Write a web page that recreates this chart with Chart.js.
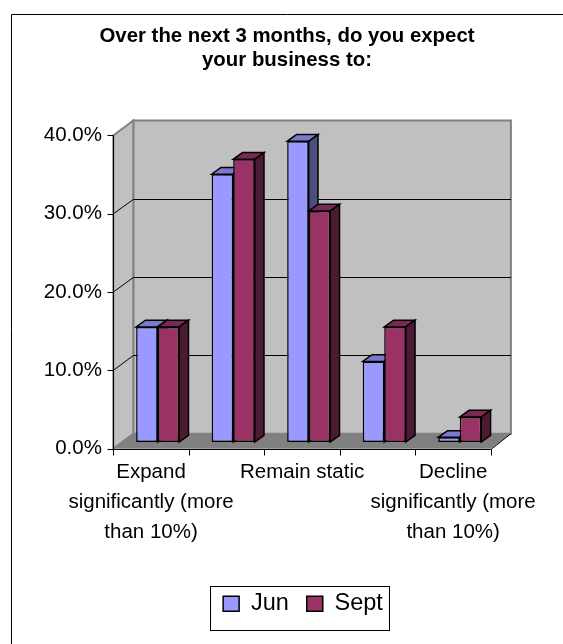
<!DOCTYPE html>
<html>
<head>
<meta charset="utf-8">
<title>Business outlook</title>
<script src="https://cdn.jsdelivr.net/npm/chart.js@4.4.1/dist/chart.umd.min.js"></script>
<style>
  html, body { margin: 0; padding: 0; background: #fff; }
  canvas { display: block; }
</style>
</head>
<body>
<canvas id="chart" width="563" height="644"></canvas>
<script>
// categories (multi-line labels), only every other one is printed under the axis
var categories = [
  ["Expand", "significantly (more", "than 10%)"],
  ["Expand slightly", "(less than 10%)"],
  ["Remain static"],
  ["Decline slightly", "(less than 10%)"],
  ["Decline", "significantly (more", "than 10%)"]
];
var seriesNames = ["Jun", "Sept"];
var junValues = [14.7, 34.2, 38.4, 10.3, 0.6];
var septValues = [14.7, 36.1, 29.5, 14.7, 3.2];
var yTicks = [0, 10, 20, 30, 40];

// front, top and side face colours for each series
var palette = [
  { front: "#9999ff", top: "#7a7acc", side: "#4d4d80" },
  { front: "#993366", top: "#7a2952", side: "#4d1a33" }
];

var FONT = "'Liberation Sans', Arial, sans-serif";

// pseudo 3D offsets, relative to the plane the columns stand in
var FRONT = { x: -6.6, y: 6.7 };
var BACK = { x: 13.4, y: -8.3 };
var EXTRUDE = { x: 9.3, y: -6.7 };

function crisp(v) { return Math.round(v) + 0.5; }

function line(ctx, x1, y1, x2, y2) {
  ctx.beginPath();
  ctx.moveTo(x1, y1);
  ctx.lineTo(x2, y2);
  ctx.stroke();
}

function poly(ctx, pts, fill, stroke, width) {
  ctx.beginPath();
  ctx.moveTo(pts[0][0], pts[0][1]);
  for (var i = 1; i < pts.length; i++) ctx.lineTo(pts[i][0], pts[i][1]);
  ctx.closePath();
  if (fill) { ctx.fillStyle = fill; ctx.fill(); }
  if (stroke) { ctx.strokeStyle = stroke; ctx.lineWidth = width || 1; ctx.stroke(); }
}

var scene3d = {
  id: "scene3d",
  afterLayout: function (chart) {
    // the legend sits a little right of the title's centre
    chart.legend.left += 16;
    chart.legend.right += 16;
  },
  beforeDraw: function (chart) {
    var ctx = chart.ctx;
    ctx.save();
    ctx.fillStyle = "#fff";
    ctx.fillRect(0, 0, chart.width, chart.height);
    ctx.strokeStyle = "#000";
    ctx.lineWidth = 1;
    ctx.beginPath();
    ctx.moveTo(11.5, chart.height);
    ctx.lineTo(11.5, 14.5);
    ctx.lineTo(chart.width, 14.5);
    ctx.stroke();
    ctx.restore();
  },
  beforeDatasetsDraw: function (chart) {
    var ctx = chart.ctx;
    var a = chart.chartArea;
    var ys = chart.scales.y, xs = chart.scales.x;
    var fl = a.left + FRONT.x, fr = a.right + FRONT.x;
    var bl = a.left + BACK.x, br = a.right + BACK.x;
    var y0 = ys.getPixelForValue(0);
    var yTop = ys.getPixelForValue(yTicks[yTicks.length - 1]);

    ctx.save();
    // back wall, left wall, floor
    poly(ctx, [[bl, yTop + BACK.y], [br, yTop + BACK.y], [br, y0 + BACK.y], [bl, y0 + BACK.y]], "#c0c0c0", "#808080", 2);
    poly(ctx, [[fl, yTop + FRONT.y], [bl, yTop + BACK.y], [bl, y0 + BACK.y], [fl, y0 + FRONT.y]], "#c0c0c0", "#808080", 2);
    poly(ctx, [[fl, y0 + FRONT.y], [fr, y0 + FRONT.y], [br, y0 + BACK.y], [bl, y0 + BACK.y]], "#808080");

    ctx.strokeStyle = "#000";
    ctx.lineWidth = 1;
    yTicks.forEach(function (v, i) {
      var py = ys.getPixelForValue(v);
      if (i > 0 && i < yTicks.length - 1) {
        line(ctx, fl, py + FRONT.y, bl, crisp(py + BACK.y));
        line(ctx, bl, crisp(py + BACK.y), br, crisp(py + BACK.y));
      }
      // tick on the front value axis
      line(ctx, crisp(fl) - 6, crisp(py + FRONT.y), crisp(fl), crisp(py + FRONT.y));
    });

    // front value axis and category axis
    line(ctx, crisp(fl), yTop + FRONT.y, crisp(fl), crisp(y0 + FRONT.y));
    line(ctx, crisp(fl), crisp(y0 + FRONT.y), fr, crisp(y0 + FRONT.y));
    line(ctx, fr, crisp(y0 + FRONT.y), br, y0 + BACK.y);
    for (var i = 0; i <= categories.length; i++) {
      var px = crisp(xs.getPixelForValue(i - 0.5) + FRONT.x);
      line(ctx, px, crisp(y0 + FRONT.y), px, crisp(y0 + FRONT.y) + 6);
    }
    ctx.restore();
  },
  beforeDatasetDraw: function () {
    // columns are painted back to front in afterDatasetsDraw
    return false;
  },
  afterDatasetsDraw: function (chart) {
    var ctx = chart.ctx;
    var metas = chart.data.datasets.map(function (ds, d) { return chart.getDatasetMeta(d); });
    ctx.save();
    ctx.lineJoin = "miter";
    for (var i = 0; i < categories.length; i++) {
      metas.forEach(function (meta, d) {
        var bar = meta.data[i];
        var p = bar.getProps(["x", "y", "base", "width"], true);
        var l = p.x - p.width / 2, r = p.x + p.width / 2, t = p.y, b = p.base;
        bar.draw(ctx);
        poly(ctx, [[l, t], [r, t], [r + EXTRUDE.x, t + EXTRUDE.y], [l + EXTRUDE.x, t + EXTRUDE.y]], palette[d].top, "#000", 1.5);
        poly(ctx, [[r, t], [r + EXTRUDE.x, t + EXTRUDE.y], [r + EXTRUDE.x, b + EXTRUDE.y], [r, b]], palette[d].side, "#000", 1.5);
      });
    }
    ctx.restore();
  },
  afterDraw: function (chart) {
    // frame round the legend
    var boxes = chart.legend.legendHitBoxes;
    if (!boxes || !boxes.length) return;
    var left = Math.min.apply(null, boxes.map(function (b) { return b.left; }));
    var right = Math.max.apply(null, boxes.map(function (b) { return b.left + b.width; }));
    var top = boxes[0].top, h = boxes[0].height;
    var ctx = chart.ctx;
    ctx.save();
    ctx.strokeStyle = "#000";
    ctx.lineWidth = 1;
    var x1 = crisp(left - 13), x2 = crisp(right + 6);
    var y1 = crisp(top - 6), y2 = crisp(top + h + 15);
    ctx.strokeRect(x1, y1, x2 - x1, y2 - y1);
    ctx.restore();
  }
};

var ctx = document.getElementById("chart").getContext("2d");
var chart = new Chart(ctx, {
  type: "bar",
  data: {
    labels: categories,
    datasets: [{
      label: seriesNames[0],
      data: junValues,
      backgroundColor: palette[0].front,
      borderColor: "#000",
      borderWidth: 1.5,
      borderSkipped: false,
      categoryPercentage: 0.57,
      barPercentage: 1.0
    }, {
      label: seriesNames[1],
      data: septValues,
      backgroundColor: palette[1].front,
      borderColor: "#000",
      borderWidth: 1.5,
      borderSkipped: false,
      categoryPercentage: 0.57,
      barPercentage: 1.0
    }]
  },
  options: {
    responsive: false,
    animation: false,
    devicePixelRatio: 1,
    events: [],
    layout: { padding: { left: 11, right: 0, top: 0, bottom: 18.6 } },
    plugins: {
      tooltip: { enabled: false },
      title: {
        display: true,
        text: ["Over the next 3 months, do you expect", "your business to:"],
        color: "#000",
        font: { family: FONT, size: 20.4, weight: "bold", lineHeight: 1.2 },
        padding: { top: 23.7, bottom: 56.1 }
      },
      legend: {
        position: "bottom",
        labels: {
          color: "#000",
          font: { family: FONT, size: 23.5 },
          boxWidth: 16,
          boxHeight: 15,
          padding: 18
        }
      }
    },
    scales: {
      x: {
        grid: { display: false, drawTicks: false },
        border: { display: false },
        ticks: {
          autoSkip: false,
          maxRotation: 0,
          minRotation: 0,
          padding: 15.2,
          labelOffset: FRONT.x,
          color: "#000",
          font: { family: FONT, size: 20.5, lineHeight: "30px" },
          callback: function (value, index) {
            return index % 2 === 0 ? this.getLabelForValue(value) : "";
          }
        },
        afterFit: function (scale) { scale.height = 131.85; }
      },
      y: {
        min: yTicks[0],
        max: yTicks[yTicks.length - 1],
        grid: { display: false, drawTicks: false },
        border: { display: false },
        afterBuildTicks: function (scale) {
          scale.ticks = yTicks.map(function (v) { return { value: v }; });
        },
        ticks: {
          padding: 18,
          labelOffset: FRONT.y,
          color: "#000",
          font: { family: FONT, size: 20.5 },
          callback: function (value) { return value.toFixed(1) + "%"; }
        },
        afterFit: function (scale) { scale.width = 108.9; }
      },
      // empty right-hand axis, only reserves space beside the plot
      yRight: {
        position: "right",
        grid: { display: false, drawTicks: false },
        border: { display: false },
        ticks: { display: false },
        afterFit: function (scale) { scale.width = 54.7; }
      }
    }
  },
  plugins: [scene3d]
});
</script>
</body>
</html>
